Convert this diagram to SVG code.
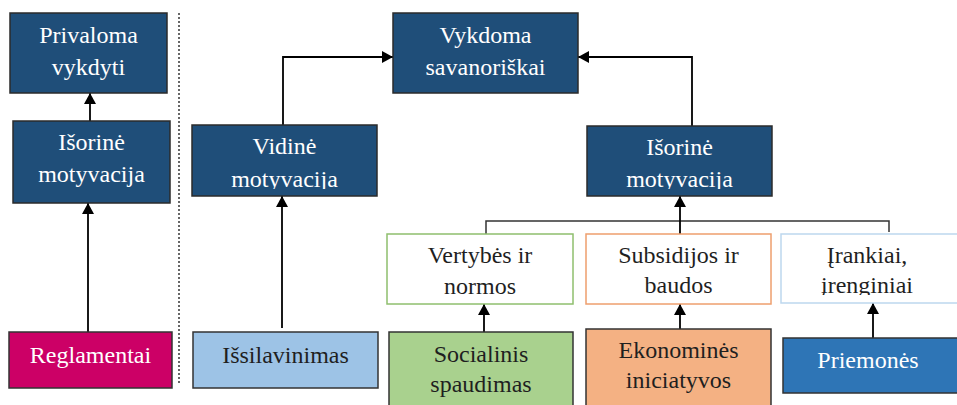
<svg xmlns="http://www.w3.org/2000/svg" width="957" height="405" viewBox="0 0 957 405">
<style>
text{font-family:"Liberation Serif","Times New Roman",serif;font-size:24px;text-anchor:middle}
.dk{fill:#1f4e79;stroke:#2b2b2b;stroke-width:1.5}
.w{fill:#ffffff}
.b{fill:#1f1f1f}
.c{fill:none;stroke:#000;stroke-width:1.8}
.bus{fill:none;stroke:#333;stroke-width:1.5}
</style>
<defs>
<marker id="ah" markerUnits="userSpaceOnUse" markerWidth="12" markerHeight="12" refX="11" refY="6" orient="auto">
<path d="M0,0 L11,6 L0,12 z" fill="#000"/>
</marker>
<clipPath id="clV"><rect x="192" y="125" width="185" height="64"/></clipPath>
<clipPath id="clI"><rect x="587" y="126" width="185" height="63"/></clipPath>
<clipPath id="clR"><rect x="781" y="234" width="180" height="61"/></clipPath>
</defs>
<line x1="179" y1="13" x2="179" y2="383" stroke="#666" stroke-width="2" stroke-dasharray="2,2"/>
<g id="connectors">
<path class="c" d="M90,121 L90,93" marker-end="url(#ah)"/>
<path class="c" d="M88,332 L88,203" marker-end="url(#ah)"/>
<path class="c" d="M283,125 L283,57 L393,57" marker-end="url(#ah)"/>
<path class="c" d="M692,126 L692,57 L578,57" marker-end="url(#ah)"/>
<path class="c" d="M282,328 L282,196" marker-end="url(#ah)"/>
<path class="bus" d="M486,234 L486,221 L889,221 L889,232"/>
<path class="c" d="M680,234 L680,196" marker-end="url(#ah)"/>
<path class="c" d="M484,332 L484,304" marker-end="url(#ah)"/>
<path class="c" d="M680,329 L680,304" marker-end="url(#ah)"/>
<path class="c" d="M873,338 L873,303" marker-end="url(#ah)"/>
</g>
<g id="privaloma">
<rect class="dk" x="10" y="13" width="157" height="80"/>
<text class="w" x="88.5" y="43">Privaloma</text>
<text class="w" x="88.5" y="75">vykdyti</text>
</g>
<g id="isorine-left">
<rect class="dk" x="13" y="121" width="157" height="82"/>
<text class="w" x="91.5" y="150">Išorinė</text>
<text class="w" x="91.5" y="182">motyvacija</text>
</g>
<g id="vidine">
<rect class="dk" x="192" y="125" width="185" height="71"/>
<text class="w" x="284.5" y="154">Vidinė</text>
<text class="w" x="284.5" y="187" clip-path="url(#clV)">motyvacija</text>
</g>
<g id="vykdoma">
<rect class="dk" x="393" y="13" width="185" height="80"/>
<text class="w" x="485.5" y="43">Vykdoma</text>
<text class="w" x="485.5" y="75">savanoriškai</text>
</g>
<g id="isorine-right">
<rect class="dk" x="587" y="126" width="185" height="70"/>
<text class="w" x="679.5" y="155">Išorinė</text>
<text class="w" x="679.5" y="187" clip-path="url(#clI)">motyvacija</text>
</g>
<g id="vertybes">
<rect x="387" y="234" width="186" height="70" fill="#fff" stroke="#8fbf6e" stroke-width="1.5"/>
<text class="b" x="480" y="263">Vertybės ir</text>
<text class="b" x="480" y="294">normos</text>
</g>
<g id="subsidijos">
<rect x="586" y="234" width="185" height="70" fill="#fff" stroke="#ee9f6e" stroke-width="1.5"/>
<text class="b" x="678.5" y="263">Subsidijos ir</text>
<text class="b" x="678.5" y="293">baudos</text>
</g>
<g id="irankiai">
<rect x="781" y="234" width="180" height="69" fill="#fff" stroke="#bdd7ee" stroke-width="1.5"/>
<text class="b" x="867" y="263">Įrankiai,</text>
<text class="b" x="867" y="293" clip-path="url(#clR)">įrenginiai</text>
</g>
<g id="reglamentai">
<rect x="9" y="332" width="163" height="56" fill="#cc0066" stroke="#333" stroke-width="1.5"/>
<text class="w" x="90.5" y="363">Reglamentai</text>
</g>
<g id="issilavinimas">
<rect x="193" y="332" width="185" height="56" fill="#9dc3e6" stroke="#333" stroke-width="1.5"/>
<text class="b" x="285.5" y="363">Išsilavinimas</text>
</g>
<g id="socialinis">
<rect x="389" y="332" width="184" height="80" fill="#a9d18e" stroke="#333" stroke-width="1.5"/>
<text class="b" x="481" y="362">Socialinis</text>
<text class="b" x="481" y="392">spaudimas</text>
</g>
<g id="ekonomines">
<rect x="586" y="329" width="185" height="83" fill="#f4b183" stroke="#333" stroke-width="1.5"/>
<text class="b" x="678.5" y="358">Ekonominės</text>
<text class="b" x="678.5" y="388">iniciatyvos</text>
</g>
<g id="priemones">
<rect x="783" y="338" width="180" height="55" fill="#2e75b6" stroke="#333" stroke-width="1.5"/>
<text class="w" x="868" y="368">Priemonės</text>
</g>
</svg>
